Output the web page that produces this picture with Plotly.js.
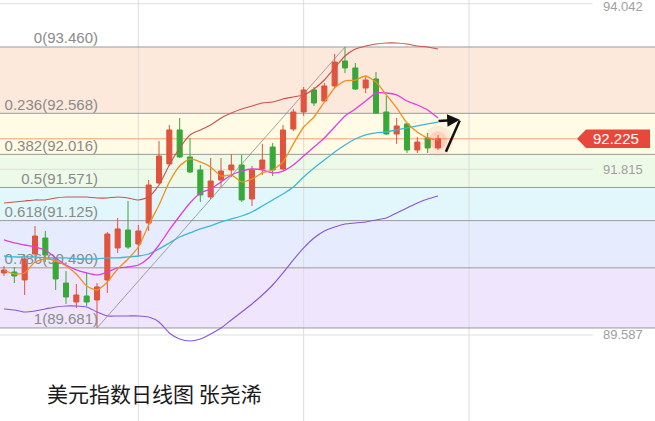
<!DOCTYPE html>
<html>
<head>
<meta charset="utf-8">
<script src="https://cdn.plot.ly/plotly-3.0.1.min.js"></script>
<style>html,body{margin:0;padding:0;background:#fff;}#chart{width:655px;height:421px;}</style>
</head>
<body>
<div id="chart"></div>
<script>
// ---- data ----
const openP  = [90.421,90.434,90.327,90.676,90.891,90.569,90.286,90.031,90.111,90.058,90.327,90.757,90.999,90.811,91.093,91.631,91.887,92.344,91.981,91.806,91.443,91.671,91.806,91.873,91.416,91.819,92.115,91.819,92.357,92.586,92.882,92.734,92.936,93.272,93.178,92.909,93.030,92.586,92.290,92.425,92.075,92.236,92.102];
const highP  = [90.515,90.501,90.663,91.053,90.986,90.623,90.448,90.273,90.421,90.286,90.972,91.160,91.389,91.066,91.671,92.196,92.411,92.505,92.236,91.873,91.967,91.967,92.021,92.008,91.860,92.156,92.169,92.411,92.626,92.922,92.922,92.976,93.366,93.460,93.245,93.057,93.124,92.801,92.505,92.438,92.250,92.304,92.277];
const lowP   = [90.380,90.286,90.125,90.649,90.569,90.192,90.004,89.950,89.977,89.681,90.152,90.690,90.744,90.649,90.986,91.618,91.860,91.967,91.766,91.376,91.416,91.577,91.712,91.376,91.322,91.739,91.725,91.806,92.330,92.532,92.667,92.720,92.909,93.110,92.882,92.841,92.559,92.277,92.156,92.035,92.035,92.035,92.075];
const closeP = [90.461,90.380,90.609,90.918,90.663,90.340,90.098,90.125,90.031,90.233,90.945,91.013,90.770,90.986,91.604,91.994,92.344,91.981,91.779,91.470,91.658,91.792,91.873,91.403,91.806,91.940,91.806,92.344,92.586,92.882,92.707,92.936,93.258,93.178,92.895,93.016,92.572,92.290,92.398,92.075,92.182,92.102,92.225];

const ma5  = [90.461,90.407,90.421,90.569,90.609,90.582,90.515,90.407,90.246,90.192,90.300,90.475,90.609,90.770,91.066,91.335,91.645,91.860,91.954,91.914,91.846,91.725,91.739,91.645,91.685,91.766,91.806,91.914,92.156,92.384,92.519,92.720,92.909,93.003,93.016,93.070,92.989,92.815,92.640,92.438,92.317,92.236,92.209];
const ma10 = [90.865,90.824,90.797,90.770,90.730,90.623,90.528,90.461,90.421,90.394,90.434,90.488,90.501,90.528,90.623,90.797,90.999,91.187,91.362,91.497,91.550,91.645,91.739,91.792,91.819,91.806,91.766,91.792,91.873,91.994,92.115,92.236,92.384,92.532,92.626,92.734,92.841,92.841,92.815,92.734,92.680,92.613,92.505];
const ma20 = [90.649,90.636,90.636,90.636,90.623,90.623,90.623,90.609,90.609,90.609,90.623,90.623,90.636,90.649,90.676,90.744,90.824,90.905,90.959,91.013,91.053,91.107,91.147,91.187,91.241,91.322,91.403,91.483,91.577,91.712,91.833,91.940,92.048,92.142,92.223,92.277,92.304,92.317,92.344,92.371,92.398,92.425,92.451];
const bandUp = [91.362,91.376,91.389,91.403,91.403,91.429,91.443,91.443,91.443,91.429,91.429,91.443,91.429,91.403,91.443,91.604,91.873,92.102,92.277,92.344,92.411,92.505,92.572,92.626,92.667,92.707,92.720,92.761,92.788,92.815,92.895,93.016,93.178,93.339,93.433,93.474,93.500,93.514,93.514,93.500,93.474,93.460,93.433];
const bandLo = [89.937,89.923,89.896,89.910,89.937,89.964,89.977,89.977,89.964,89.896,89.843,89.843,89.843,89.843,89.829,89.762,89.614,89.533,89.506,89.533,89.601,89.681,89.789,89.896,90.004,90.125,90.259,90.421,90.596,90.757,90.891,90.986,91.039,91.080,91.093,91.107,91.134,91.160,91.228,91.295,91.362,91.416,91.456];

const fibRatios = ['0','0.236','0.382','0.5','0.618','0.786','1'];
const fibValues = [93.460, 92.568, 92.016, 91.571, 91.125, 90.490, 89.681];
const fibColors = ['#fde8dc','#fffbe4','#eefae8','#e2f7fb','#e6ecfd','#efe6fd'];
const priceTicks = ['94.042','91.815','89.587'];
const lastPrice = '92.225';
const titleText = '美元指数日线图 张尧浠';

// ---- build ----
const idx = openP.map((_, i) => i);
const traces = [];

traces.push({
  type:'scatter', mode:'text', x: fibValues.map(() => 9.1), y: fibValues,
  text: fibValues.map((v, i) => fibRatios[i] + '(' + v.toFixed(3) + ')'),
  textposition:'top left', textfont:{family:'Liberation Sans, Arial, sans-serif', size:15, color:'#8a8a8a'},
  hoverinfo:'skip', showlegend:false, cliponaxis:false
});

const lineTrace = (y, color, w) => ({type:'scatter', mode:'lines', x: idx, y: y, line:{color: color, width: w, shape:'spline', smoothing:0.6}, hoverinfo:'skip', showlegend:false});
traces.push(lineTrace(bandUp, '#c9534c', 1.1));
traces.push(lineTrace(bandLo, '#8a55d6', 1.1));
traces.push(lineTrace(ma20, '#3cb8d6', 1.3));
traces.push(lineTrace(ma10, '#e03de0', 1.3));
traces.push(lineTrace(ma5, '#f0901e', 1.3));

traces.push({
  type:'candlestick', x: idx, open: openP, high: highP, low: lowP, close: closeP,
  increasing:{line:{color:'#e0533d', width:1}, fillcolor:'#e0533d'},
  decreasing:{line:{color:'#38a838', width:1}, fillcolor:'#38a838'},
  whiskerwidth:0, hoverinfo:'skip', showlegend:false
});

const last = idx.length - 1;
traces.push({type:'scatter', mode:'markers', x:[last], y:[closeP[last]-0.03],
  marker:{size:[30], color:'rgba(255,70,70,0.13)', line:{width:0}}, hoverinfo:'skip', showlegend:false});
traces.push({type:'scatter', mode:'markers', x:[last], y:[closeP[last]-0.02],
  marker:{size:[18], color:'rgba(255,70,70,0.22)', line:{width:0}}, hoverinfo:'skip', showlegend:false});

const shapes = [];
for (let i = 0; i < fibColors.length; i++) {
  shapes.push({type:'rect', layer:'below', xref:'paper', yref:'y', x0:0, x1:1, y0:fibValues[i+1], y1:fibValues[i], fillcolor:fibColors[i], line:{width:0}});
}
[13, 29, 45].forEach(v => shapes.push({type:'line', layer:'below', xref:'x', yref:'paper', x0:v, x1:v, y0:0, y1:1, line:{color:'#dcdcdc', width:1}}));
priceTicks.forEach(t => shapes.push({type:'line', layer:'below', xref:'paper', yref:'y', x0:0, x1:0.905, y0:+t, y1:+t, line:{color:'#dedede', width:1}}));
fibValues.forEach(v => shapes.push({type:'line', layer:'below', xref:'paper', yref:'y', x0:0, x1:1, y0:v, y1:v, line:{color:'#9a9a9a', width:1}}));
shapes.push({type:'line', layer:'below', xref:'paper', yref:'y', x0:0, x1:0.885, y0:+lastPrice, y1:+lastPrice, line:{color:'#f0a070', width:1}});
shapes.push({type:'line', xref:'x', yref:'y', x0:9, y0:lowP[9], x1:33, y1:highP[33], line:{color:'rgba(140,140,140,0.8)', width:1}});
const lp = +lastPrice, hh = 0.125;
shapes.push({type:'path', xref:'paper', yref:'y', fillcolor:'#e8483c', line:{width:0},
  path:`M ${577/655} ${lp} L ${586/655} ${lp+hh} L ${650/655} ${lp+hh} L ${650/655} ${lp-hh} L ${586/655} ${lp-hh} Z`});

const annotations = [];
priceTicks.forEach((t, i) => annotations.push({xref:'paper', yref:'y', x:645/655, y:+t, xanchor:'right', yanchor:'middle', yshift: i === 0 ? -3 : 0, text:t, showarrow:false, font:{family:'Liberation Sans, Arial, sans-serif', size:13, color:'#a0a0a0'}}));
annotations.push({xref:'paper', yref:'y', x:616/655, y:lp, xanchor:'center', yanchor:'middle', text:lastPrice, showarrow:false, font:{family:'Liberation Sans, Arial, sans-serif', size:15, color:'#ffffff'}});
annotations.push({xref:'paper', yref:'paper', x:45/655, y:(421-393)/421, xanchor:'left', yanchor:'middle', text:titleText, showarrow:false, font:{family:'Noto Sans CJK SC, sans-serif', size:21, color:'#1a1a1a'}});
annotations.push({xref:'x', yref:'y', axref:'x', ayref:'y', x:44.1, y:92.48, ax:41.9, ay:92.465, text:'', showarrow:true, arrowhead:2, arrowsize:1, arrowwidth:2.5, arrowcolor:'#111'});
annotations.push({xref:'x', yref:'y', axref:'x', ayref:'y', x:44.1, y:92.47, ax:42.7, ay:92.03, text:'', showarrow:true, arrowhead:0, arrowwidth:2.5, arrowcolor:'#111'});

const layout = {
  width:655, height:421, margin:{l:0, r:0, t:0, b:0},
  paper_bgcolor:'#ffffff', plot_bgcolor:'#ffffff', showlegend:false,
  xaxis:{range:[-0.387, 63.0], showticklabels:false, showgrid:false, zeroline:false, ticks:'', rangeslider:{visible:false}, fixedrange:true},
  yaxis:{range:[88.430, 94.092], showticklabels:false, showgrid:false, zeroline:false, ticks:'', fixedrange:true},
  shapes: shapes, annotations: annotations
};

Plotly.newPlot('chart', traces, layout, {displayModeBar:false, staticPlot:true});
</script>
</body>
</html>
